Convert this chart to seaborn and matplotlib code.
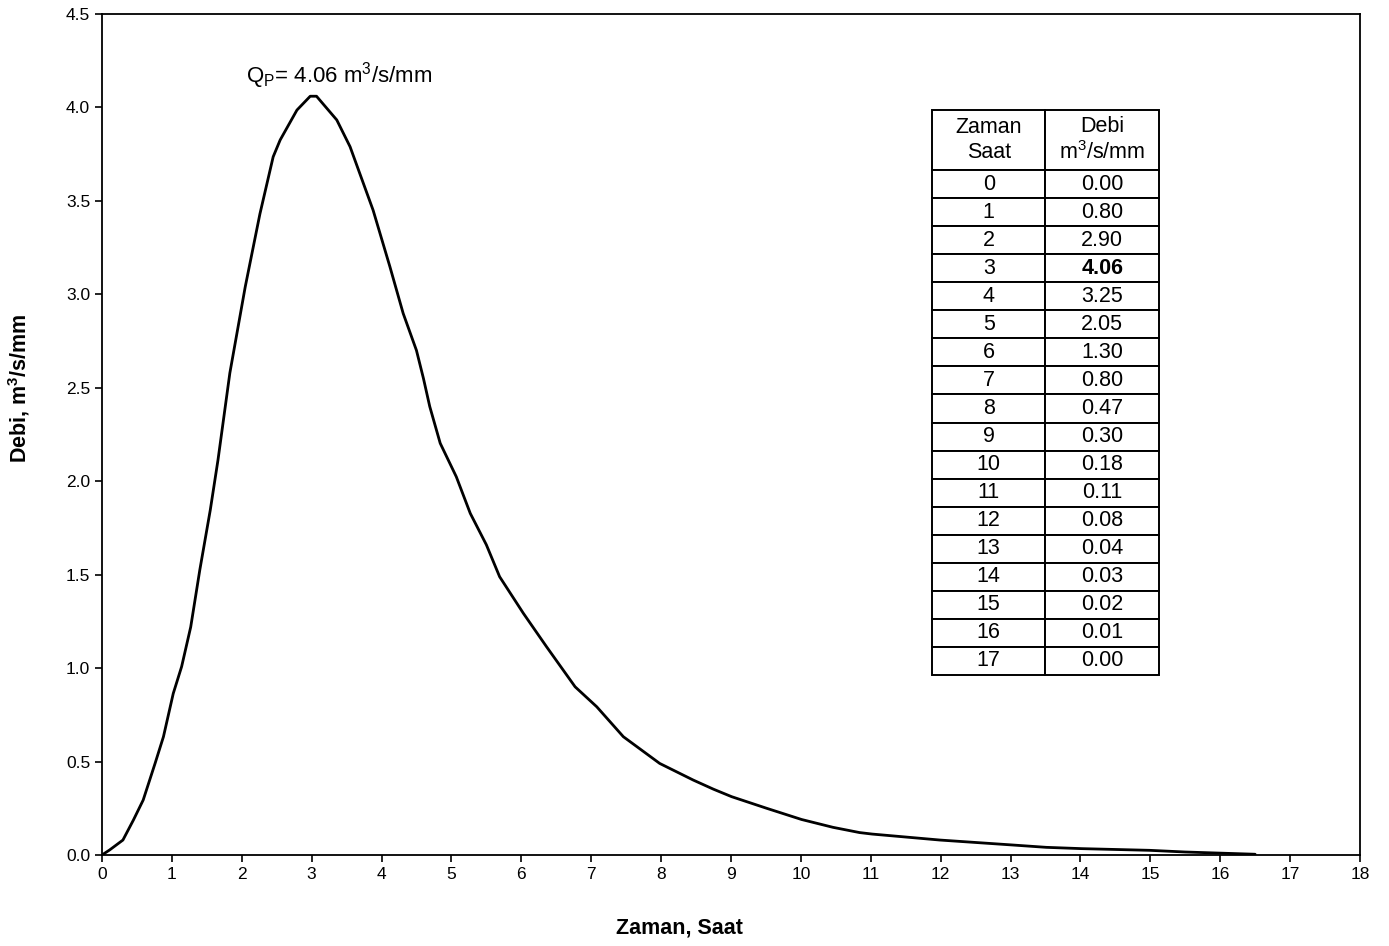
import matplotlib
matplotlib.use("Agg")
import matplotlib.pyplot as plt
import seaborn as sns

# Unit hydrograph curve (time in hours, discharge m3/s/mm)
time_hours = [0.00, 0.11, 0.30, 0.45, 0.59, 0.76, 0.88, 1.02, 1.14, 1.27, 1.40,
              1.55, 1.66, 1.83, 2.05, 2.26, 2.45, 2.55, 2.79, 2.98, 3.07, 3.36,
              3.55, 3.88, 4.12, 4.31, 4.50, 4.60, 4.69, 4.84, 5.07, 5.27, 5.50,
              5.69, 6.03, 6.36, 6.77, 7.08, 7.46, 7.98, 8.46, 8.75, 9.01, 9.51,
              10.01, 10.46, 10.84, 11.02, 11.99, 13.01, 13.51, 14.02, 14.99,
              15.50, 16.50]
discharge = [0.00, 0.027, 0.08, 0.187, 0.294, 0.49, 0.633, 0.864, 1.008, 1.22,
             1.525, 1.846, 2.113, 2.579, 3.04, 3.43, 3.736, 3.826, 3.986, 4.06,
             4.06, 3.933, 3.79, 3.45, 3.148, 2.898, 2.70, 2.55, 2.40, 2.203,
             2.024, 1.828, 1.66, 1.489, 1.293, 1.115, 0.90, 0.793, 0.633, 0.49,
             0.401, 0.352, 0.312, 0.25, 0.19, 0.148, 0.12, 0.112, 0.08, 0.054,
             0.041, 0.034, 0.025, 0.016, 0.004]

# Table values
table_hours = list(range(18))
table_debi = [0.00, 0.80, 2.90, 4.06, 3.25, 2.05, 1.30, 0.80, 0.47, 0.30,
              0.18, 0.11, 0.08, 0.04, 0.03, 0.02, 0.01, 0.00]
peak_q = 4.06

sns.set_style("ticks")
plt.rcParams['font.family'] = ['Liberation Sans', 'DejaVu Sans']
plt.rcParams['mathtext.fontset'] = 'custom'
plt.rcParams['mathtext.rm'] = 'Liberation Sans'
plt.rcParams['mathtext.bf'] = 'Liberation Sans:bold'
plt.rcParams['text.color'] = 'black'
plt.rcParams['axes.labelcolor'] = 'black'
plt.rcParams['axes.edgecolor'] = 'black'
plt.rcParams['xtick.color'] = 'black'
plt.rcParams['ytick.color'] = 'black'

fig = plt.figure(figsize=(13.89, 9.46), dpi=100)
ax = fig.add_axes([0.0734, 0.0962, 0.9057, 0.8890])

sns.lineplot(x=time_hours, y=discharge, ax=ax, color='black', linewidth=2.0)

ax.set_xlim(0, 18)
ax.set_ylim(0, 4.5)
ax.set_xticks(range(0, 19))
ax.set_yticks([i * 0.5 for i in range(10)])
ax.set_yticklabels([f"{i * 0.5:.1f}" for i in range(10)])
ax.tick_params(axis='both', direction='out', length=5, width=1.2, labelsize=12.5)
for s in ax.spines.values():
    s.set_linewidth(1.3)
    s.set_visible(True)

ax.set_xlabel("Zaman, Saat", fontsize=15.5, fontweight='bold')
ax.set_ylabel(r"Debi, m$^\mathbf{3}$/s/mm", fontsize=15.5, fontweight='bold')
ax.xaxis.set_label_coords(0.459, -0.074)
ax.yaxis.set_label_coords(-0.056, 0.555)

ax.text(3.39, 4.17, f"Q$_\\mathrm{{P}}$= {peak_q:.2f} m$^3$/s/mm", fontsize=16,
        ha='center', va='center')

# data table
cells = [[str(h), f"{d:.2f}"] for h, d in zip(table_hours, table_debi)]
tbl = ax.table(cellText=cells, colLabels=["Zaman\nSaat", "Debi\nm$^3$/s/mm"],
               cellLoc='center', bbox=[0.6598, 0.2140, 0.1804, 0.6718])
tbl.auto_set_font_size(False)
tbl.set_fontsize(15.5)
for (r, c), cell in tbl.get_celld().items():
    cell.set_edgecolor('black')
    cell.set_linewidth(1.4)
    cell.set_facecolor('white')
    if r == 0:
        cell.set_height(cell.get_height() * 2.14)
    if r == 4 and c == 1:
        cell.get_text().set_fontweight('bold')

fig.savefig("out.png", dpi=100)
